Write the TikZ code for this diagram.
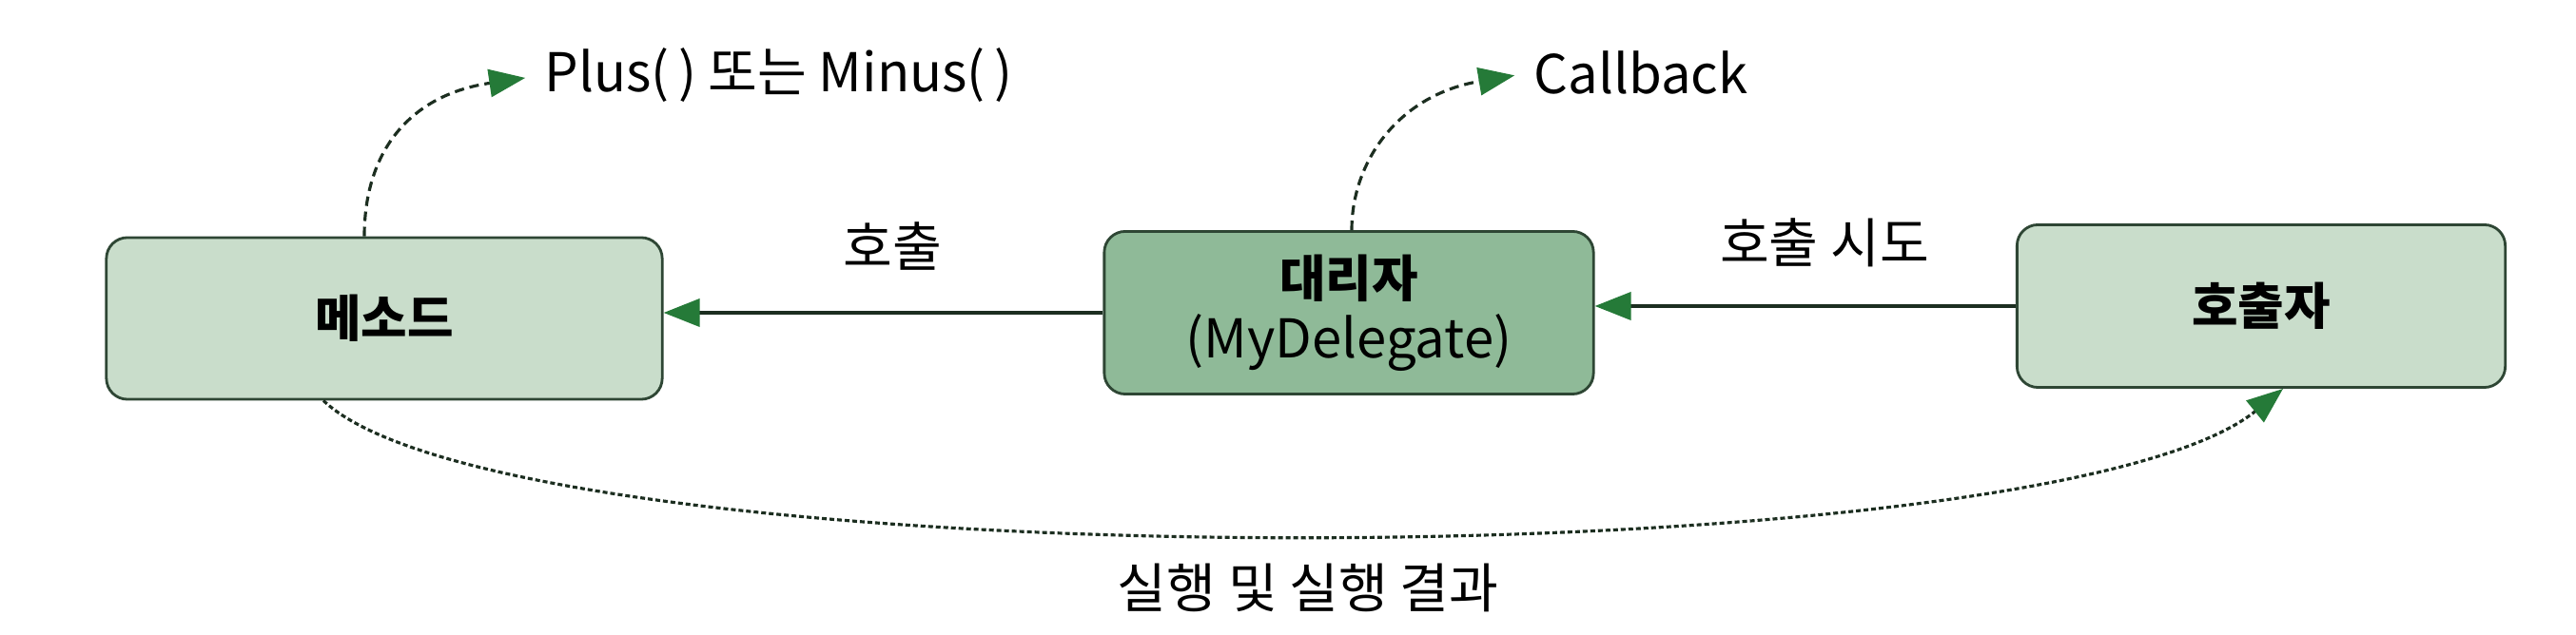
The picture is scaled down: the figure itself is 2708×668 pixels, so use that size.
\documentclass[tikz,border=0pt]{standalone}
\usepackage{fontspec}
\setmainfont{Noto Sans CJK KR}
\usetikzlibrary{arrows.meta,calc}
\definecolor{lightbox}{HTML}{C9DDCB}
\definecolor{darkbox}{HTML}{8FBA98}
\definecolor{edgec}{HTML}{2E4634}
\definecolor{tipgreen}{HTML}{257A38}
\definecolor{linec}{HTML}{1C2E20}
\begin{document}
\begin{tikzpicture}[x=0.01cm,y=-0.01cm,
  box/.style={draw=edgec, line width=0.8pt, rounded corners=0.22cm, minimum width=5.84cm, minimum height=1.7cm, align=center, font=\fontsize{15}{18}\selectfont, inner sep=0},
  lbl/.style={font=\fontsize{16}{18}\selectfont, inner sep=0},
  tipg/.style={-{Triangle[length=0.38cm,width=0.29cm,color=tipgreen]}},
  solidarr/.style={tipg, draw=linec, line width=1.1pt},
  dasharr/.style={tipg, draw=linec, line width=0.9pt, dash pattern=on 0.1cm off 0.06cm},
  finearr/.style={tipg, draw=linec, line width=0.9pt, dash pattern=on 0.05cm off 0.03cm}
]
\useasboundingbox[fill=white] (0,0) rectangle (2708,668);

\node[box, fill=lightbox, minimum width=5.84cm, minimum height=1.7cm] (meth) at (404,335) {\bfseries 메소드};
\node[box, fill=darkbox, minimum width=5.14cm, minimum height=1.71cm] (dele) at (1418,329) {\rule{0pt}{0.45cm}{\bfseries 대리자}\\{\fontsize{16}{18}\selectfont(MyDelegate)}};
\node[box, fill=lightbox, minimum width=5.13cm, minimum height=1.71cm] (caller) at (2377,322) {\bfseries 호출자};

\node[lbl] (l1) at (938,259) {호출};
\node[lbl] (l2) at (1918,255) {호출 시도};
\node[lbl, anchor=west] (plus) at (572,79) {Plus(\,) 또는 Minus(\,)};
\node[lbl, anchor=west] (cb) at (1612,76) {Callback};
\node[lbl] (res) at (1375,618) {실행 및 실행 결과};

\draw[solidarr] (dele.west) -- (dele.west -| meth.east);
\draw[solidarr] (caller.west) -- (caller.west -| dele.east);

\draw[dasharr, shorten >=0.2cm] ($(meth.north)+(-21,0)$) .. controls (383,160) and (430,100) .. (plus.west);
\draw[dasharr, shorten >=0.2cm] ($(dele.north)+(3,0)$) .. controls (1421,170) and (1470,100) .. (cb.west);
\draw[finearr] ($(meth.south)+(-64,0)$) .. controls (540,612) and (2150,612) .. ($(caller.south)+(23,0)$);
\end{tikzpicture}
\end{document}
